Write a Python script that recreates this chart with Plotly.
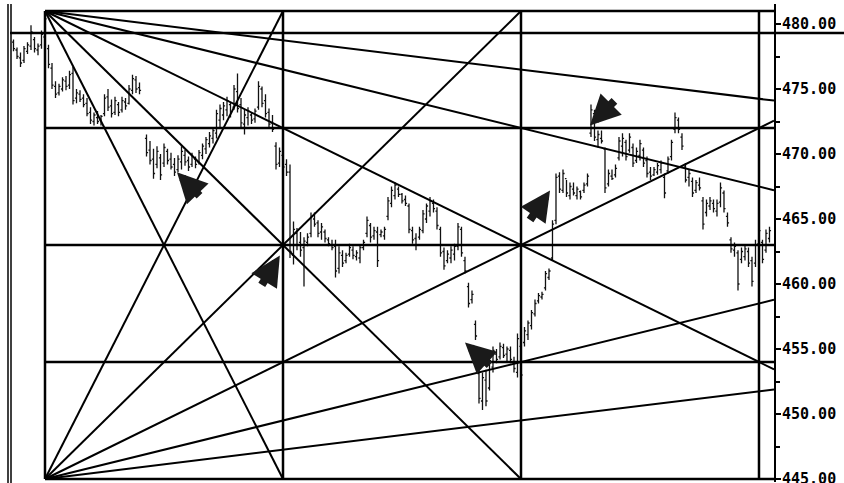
import plotly.graph_objects as go

# ---------------------------------------------------------------------------
# Gann square settings: a 36-point price box hung from the swing high,
# split into quarters, with time measured in 68-bar columns.
# ---------------------------------------------------------------------------
SQ_TOP = 481.0
SQ_BOTTOM = 445.0
SQ_START = 0
SQ_COLUMN = 68
N_COLUMNS = 3
FAN_RATES = [36, 18, 9, 4.5, 2.25]      # points per column
LEVEL_LINE = 479.3                       # reference level drawn across the page

X_RANGE = [-9.43, 208.29]
Y_RANGE = [444.77, 481.54]

# ---------------------------------------------------------------------------
# Price bars (bar 28 is a missing session)
# ---------------------------------------------------------------------------
bar_index = [i for i in range(-9, 208) if i != 28]

opens = [
    478.6, 478.0, 477.4, 477.2, 477.9, 478.3, 478.8, 478.0, 478.4, 479.0,
    478.1, 476.6, 475.2, 474.7, 475.0, 475.6, 475.3, 476.2, 474.3, 474.6,
    474.3, 473.9, 473.2, 472.5, 472.8, 472.6, 473.1, 474.4, 473.7, 473.2,
    473.8, 473.4, 474.0, 473.9, 474.9, 475.7, 475.1,
    471.2, 470.3, 469.6, 469.2, 469.7, 469.3, 470.2, 469.6, 469.2, 468.8,
    469.4, 469.9, 469.5, 469.2, 469.6, 469.4, 469.9, 470.4, 470.8, 471.2,
    471.6, 472.6, 473.0, 473.4, 473.8, 473.6, 474.8, 473.8, 472.3, 472.8,
    473.0, 472.7, 473.6, 475.0, 474.1, 473.2, 472.4, 470.6, 469.3, 469.9,
    469.2, 468.6, 462.2, 463.9, 463.2, 462.8, 463.2, 463.9, 465.0, 464.7,
    464.0, 464.0, 463.4, 463.0, 462.9, 461.2, 462.2, 461.8, 462.3, 462.6,
    462.1, 462.0, 462.8, 463.9, 464.5, 463.7, 464.0, 463.8, 463.7, 465.2,
    466.2, 466.8, 467.3, 466.9, 466.5, 466.0, 464.1, 463.5, 463.6, 464.1,
    465.0, 465.6, 466.2, 465.6, 464.2, 462.5, 461.8, 462.0, 462.3, 462.9,
    464.2, 461.8, 459.8, 458.8, 456.9, 453.1, 451.0, 452.6, 452.0, 453.6,
    454.6, 454.4, 455.1, 454.6, 454.9, 454.0, 453.2, 455.2, 455.5, 456.1,
    456.8, 457.7, 458.7, 459.0, 459.7, 460.5, 462.0, 464.9, 468.3, 467.2,
    468.1, 466.8, 467.3, 466.8, 467.1, 467.2, 467.7, 471.6, 473.1, 471.1,
    471.2, 470.4, 467.7, 468.3, 468.4, 469.7, 470.6, 470.9, 470.3, 470.5,
    469.5, 469.9, 470.3, 469.5, 468.6, 468.4, 468.6, 468.8, 468.2, 468.7,
    469.8, 471.9, 472.6, 471.3, 469.0, 468.2, 467.9, 467.2, 467.6, 466.4,
    465.5, 466.0, 466.2, 465.6, 466.3, 467.0, 465.2, 463.4, 462.6, 462.4,
    461.9, 462.1, 462.5, 461.8, 461.6, 463.1, 463.2, 462.6, 463.5,
]

highs = [
    478.8, 478.2, 477.8, 478.3, 478.6, 479.9, 479.0, 478.5, 479.5, 481.0,
    478.4, 477.0, 475.6, 475.4, 475.9, 476.0, 476.4, 476.7, 475.0, 474.9,
    474.6, 474.3, 473.6, 473.2, 473.3, 473.0, 474.6, 475.0, 474.2, 474.4,
    474.0, 474.4, 474.3, 475.3, 476.1, 476.0, 475.5,
    471.5, 471.0, 470.4, 470.6, 470.0, 470.8, 470.4, 470.1, 469.7, 469.9,
    470.6, 470.3, 469.8, 470.1, 469.8, 470.3, 470.8, 471.3, 471.7, 472.0,
    473.4, 473.8, 474.0, 474.4, 474.0, 475.3, 476.2, 474.3, 473.4, 473.6,
    473.2, 473.5, 475.6, 475.2, 474.6, 473.5, 473.0, 470.9, 470.5, 470.2,
    469.6, 469.2, 464.8, 464.3, 464.0, 463.6, 463.9, 465.5, 465.5, 464.9,
    464.7, 464.2, 463.6, 463.4, 463.4, 462.9, 462.6, 462.4, 463.1, 462.9,
    462.6, 463.0, 463.4, 465.2, 464.7, 464.4, 464.4, 464.2, 464.4, 466.7,
    467.5, 467.8, 467.5, 467.0, 466.8, 466.2, 464.4, 463.9, 464.4, 465.7,
    466.2, 466.7, 466.5, 465.9, 464.4, 462.8, 462.6, 462.9, 463.1, 464.7,
    464.4, 462.1, 460.1, 459.5, 457.2, 453.4, 453.2, 453.4, 454.4, 455.2,
    455.0, 455.5, 455.4, 455.2, 455.2, 454.4, 456.2, 455.5, 456.7, 457.2,
    458.0, 458.8, 459.3, 459.4, 461.0, 461.2, 464.9, 468.5, 468.6, 468.8,
    468.0, 467.8, 467.8, 467.5, 467.2, 467.8, 468.5, 473.8, 473.4, 471.8,
    471.8, 470.5, 468.8, 468.8, 469.2, 471.3, 471.6, 471.1, 471.6, 470.8,
    470.5, 471.1, 470.5, 469.8, 469.0, 469.0, 469.3, 469.5, 468.5, 469.8,
    471.1, 473.2, 472.8, 471.6, 469.3, 468.8, 468.2, 468.0, 468.2, 466.7,
    466.5, 466.7, 466.5, 466.5, 467.8, 467.2, 465.5, 463.6, 463.2, 462.6,
    462.8, 463.0, 462.8, 462.1, 463.4, 464.4, 463.4, 464.2, 464.4,
]

lows = [
    477.9, 477.3, 476.7, 477.0, 477.7, 478.0, 477.8, 477.6, 478.1, 478.6,
    476.6, 475.0, 474.3, 474.5, 474.8, 474.9, 475.0, 473.8, 473.9, 474.0,
    473.6, 472.9, 472.3, 472.2, 472.3, 472.2, 472.9, 473.3, 472.8, 473.0,
    472.9, 473.2, 473.4, 473.8, 474.6, 474.7, 474.6,
    469.8, 469.2, 468.1, 468.9, 468.0, 469.0, 469.2, 468.8, 468.3, 468.6,
    468.8, 469.1, 468.7, 469.0, 468.9, 469.2, 469.6, 470.0, 470.5, 470.8,
    471.2, 472.0, 472.6, 472.9, 472.8, 473.4, 473.2, 472.0, 471.5, 472.2,
    472.3, 472.4, 473.4, 473.6, 472.8, 472.0, 471.7, 468.8, 469.0, 468.6,
    468.3, 462.0, 461.5, 462.6, 462.1, 459.8, 462.9, 463.6, 464.4, 463.6,
    463.4, 463.2, 462.9, 462.6, 460.5, 460.8, 461.3, 461.6, 462.1, 461.9,
    461.8, 461.6, 462.6, 463.6, 463.2, 463.4, 461.3, 463.6, 463.4, 464.9,
    465.9, 466.5, 466.7, 466.2, 466.0, 463.9, 463.1, 462.6, 463.4, 463.9,
    464.7, 465.2, 465.5, 464.2, 462.1, 461.1, 461.6, 461.6, 461.8, 462.6,
    462.1, 460.8, 458.2, 458.5, 455.7, 450.8, 450.3, 450.6, 451.8, 453.2,
    453.9, 454.2, 454.3, 454.0, 453.9, 453.2, 452.8, 452.6, 455.2, 455.7,
    456.5, 457.5, 458.5, 458.8, 459.5, 460.3, 461.8, 464.6, 467.0, 467.0,
    466.7, 466.5, 466.8, 466.5, 466.5, 467.0, 467.5, 471.3, 471.0, 470.5,
    470.8, 467.0, 467.5, 468.0, 468.2, 469.5, 469.8, 469.5, 470.1, 469.0,
    469.3, 469.5, 469.0, 468.2, 468.0, 468.3, 468.4, 468.5, 466.6, 468.5,
    469.5, 471.6, 471.6, 470.3, 467.8, 467.5, 466.7, 467.0, 467.2, 464.2,
    465.2, 465.7, 465.5, 465.2, 465.9, 465.5, 464.4, 462.4, 462.1, 459.5,
    461.6, 461.8, 461.3, 459.8, 461.3, 462.8, 461.6, 462.4, 463.2,
]

closes = [
    478.1, 477.5, 477.0, 478.1, 478.4, 479.4, 478.1, 478.3, 479.2, 480.4,
    476.9, 475.3, 474.6, 475.2, 475.7, 475.2, 476.1, 474.1, 474.7, 474.2,
    473.8, 473.1, 472.6, 473.0, 472.5, 472.9, 474.3, 473.6, 473.1, 474.1,
    473.2, 474.1, 473.7, 475.0, 475.8, 475.0, 474.9,
    470.1, 469.5, 468.5, 470.2, 468.4, 470.5, 469.5, 469.0, 468.6, 469.6,
    470.2, 469.4, 469.0, 469.8, 469.2, 470.1, 470.6, 471.1, 471.4, 471.8,
    473.1, 473.5, 473.7, 474.1, 473.2, 475.0, 473.5, 472.4, 473.0, 473.3,
    472.6, 473.3, 475.2, 473.9, 473.1, 472.3, 471.9, 469.2, 470.2, 469.0,
    468.6, 462.5, 464.2, 463.0, 462.6, 463.3, 463.6, 465.2, 464.6, 463.9,
    464.4, 463.5, 463.1, 462.8, 461.0, 462.4, 461.6, 462.2, 462.8, 462.2,
    462.4, 462.8, 463.2, 464.9, 463.6, 464.1, 461.8, 464.0, 464.2, 466.4,
    467.2, 467.6, 466.9, 466.4, 466.2, 464.2, 463.4, 463.0, 464.2, 465.4,
    466.0, 466.4, 465.8, 464.5, 462.4, 461.4, 462.3, 462.6, 462.9, 464.4,
    462.4, 461.0, 458.5, 459.2, 456.0, 451.2, 452.8, 451.0, 454.1, 454.9,
    454.2, 455.2, 454.5, 455.0, 454.2, 453.5, 455.8, 453.0, 456.4, 457.0,
    457.8, 458.5, 459.1, 459.2, 460.8, 461.0, 464.6, 468.2, 467.3, 468.5,
    467.0, 467.5, 467.0, 467.3, 466.7, 467.6, 468.3, 473.4, 471.3, 471.5,
    471.0, 467.4, 468.5, 468.1, 468.9, 471.0, 471.2, 469.8, 471.3, 469.3,
    470.2, 470.8, 469.3, 468.5, 468.3, 468.8, 469.1, 469.3, 467.0, 469.6,
    470.9, 472.8, 471.9, 470.6, 468.0, 468.5, 467.0, 467.8, 467.4, 464.6,
    466.2, 466.4, 465.8, 466.2, 467.4, 465.8, 464.7, 462.7, 462.9, 460.0,
    462.5, 462.7, 461.6, 460.2, 463.0, 464.1, 461.9, 463.9, 464.1,
]

# Turning points flagged with block arrows: (bar, price, tail dx px, tail dy px)
arrow_marks = [
    (37.7, 468.6, 24, 25),
    (67.1, 462.2, -19, 31),
    (120.0, 455.5, 26, 24),
    (144.3, 467.2, -21, 31),
    (155.7, 472.2, 26, -26),
]

# ---------------------------------------------------------------------------
fig = go.Figure()

fig.add_trace(go.Ohlc(
    x=bar_index, open=opens, high=highs, low=lows, close=closes,
    increasing=dict(line=dict(color="#111111", width=1.3)),
    decreasing=dict(line=dict(color="#111111", width=1.3)),
    tickwidth=0.45, showlegend=False, hoverinfo="skip",
))

x_right = X_RANGE[1]
height = SQ_TOP - SQ_BOTTOM

# square grid: quarter levels and column boundaries
gx, gy = [], []
for k in range(5):
    lvl = SQ_BOTTOM + k * height / 4
    gx += [SQ_START, x_right, None]
    gy += [lvl, lvl, None]
for k in range(N_COLUMNS + 1):
    xc = SQ_START + k * SQ_COLUMN
    gx += [xc, xc, None]
    gy += [SQ_BOTTOM, SQ_TOP, None]
fig.add_trace(go.Scatter(x=gx, y=gy, mode="lines",
                         line=dict(color="black", width=2.5),
                         showlegend=False, hoverinfo="skip"))

# fan lines from the top-left and bottom-left corners
fx, fy = [], []
for rate in FAN_RATES:
    x_hit = SQ_START + height / rate * SQ_COLUMN
    x_end = min(x_hit, x_right)
    drop = rate * (x_end - SQ_START) / SQ_COLUMN
    fx += [SQ_START, x_end, None, SQ_START, x_end, None]
    fy += [SQ_TOP, SQ_TOP - drop, None, SQ_BOTTOM, SQ_BOTTOM + drop, None]
fig.add_trace(go.Scatter(x=fx, y=fy, mode="lines",
                         line=dict(color="black", width=2),
                         showlegend=False, hoverinfo="skip"))

# ---------------------------------------------------------------------------
W, H = 844, 483
ML, MR, MT, MB = 12, 70, 4, 1
pw = W - ML - MR


def px_to_paper(px):
    return (px - ML) / pw


shapes = [
    dict(type="line", xref="paper", yref="paper",
         x0=px_to_paper(8), x1=px_to_paper(8), y0=-0.01, y1=1.0,
         line=dict(color="black", width=1.5)),
    dict(type="line", xref="paper", yref="paper",
         x0=px_to_paper(11), x1=px_to_paper(11), y0=-0.01, y1=1.0,
         line=dict(color="black", width=1.5)),
    dict(type="line", xref="paper", yref="y",
         x0=px_to_paper(10), x1=px_to_paper(W), y0=LEVEL_LINE, y1=LEVEL_LINE,
         line=dict(color="black", width=2.5)),
]

annotations = [
    dict(x=bx, y=by, xref="x", yref="y", ax=dx, ay=dy, text="",
         showarrow=True, arrowhead=2, arrowsize=0.75, arrowwidth=8,
         arrowcolor="#1a1a1a", standoff=0)
    for bx, by, dx, dy in arrow_marks
]

fig.update_layout(
    width=W, height=H,
    margin=dict(l=ML, r=MR, t=MT, b=MB, autoexpand=False),
    paper_bgcolor="white", plot_bgcolor="white",
    showlegend=False,
    shapes=shapes,
    annotations=annotations,
    xaxis=dict(range=X_RANGE, visible=False, rangeslider=dict(visible=False),
               fixedrange=True, automargin=False),
    yaxis=dict(
        range=Y_RANGE, side="right", showgrid=False, zeroline=False,
        showline=True, linecolor="black", linewidth=2, automargin=False,
        ticks="outside", ticklen=5, tickwidth=1.5, tickcolor="black",
        tick0=445, dtick=5, tickformat=".2f",
        ticklabelstandoff=-2, ticklabeloverflow="allow",
        tickfont=dict(family="DejaVu Sans Mono", size=15, color="black",
                      weight="bold"),
        minor=dict(ticks="outside", ticklen=4, tickwidth=1.5,
                   tickcolor="black", tick0=445, dtick=2.5),
        fixedrange=True,
    ),
)

fig.write_html("out.html")
